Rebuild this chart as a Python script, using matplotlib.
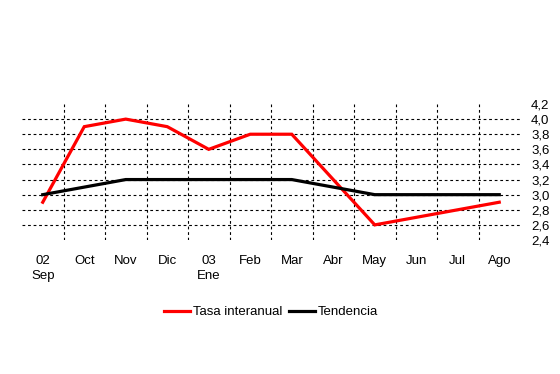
import matplotlib
matplotlib.use("Agg")
import matplotlib.pyplot as plt
import numpy as np

categories = ["02\nSep", "Oct", "Nov", "Dic", "03\nEne", "Feb", "Mar", "Abr", "May", "Jun", "Jul", "Ago"]
tasa = [2.9, 3.9, 4.0, 3.9, 3.6, 3.8, 3.8, 3.2, 2.6, 2.7, 2.8, 2.9]
tendencia = [3.0, 3.1, 3.2, 3.2, 3.2, 3.2, 3.2, 3.1, 3.0, 3.0, 3.0, 3.0]
yticks = [2.4, 2.6, 2.8, 3.0, 3.2, 3.4, 3.6, 3.8, 4.0, 4.2]

plt.rcParams['font.family'] = ['Liberation Sans', 'DejaVu Sans']

fig = plt.figure(figsize=(5.6, 3.74), dpi=100)
ax = fig.add_axes([22/560, 134/374, 498/560, 136/374])

x = np.arange(len(categories))
ax.plot(x, tasa, color='#ff0000', lw=2.3, label='Tasa interanual', solid_joinstyle='miter', zorder=3)
ax.plot(x, tendencia, color='black', lw=2.3, label='Tendencia', solid_joinstyle='miter', zorder=4)

ax.set_xlim(-0.5, len(categories) - 0.5)
ax.set_ylim(2.4, 4.2)

for yv in yticks[1:-1]:
    ax.axhline(yv, color='black', lw=0.8, ls=(0, (2.5, 2.5)), zorder=1)
for xv in np.arange(0.5, len(categories) - 1, 1.0):
    ax.axvline(xv, color='black', lw=0.8, ls=(0, (2.5, 2.5)), zorder=1)

ax.set_xticks(x)
ax.set_xticklabels(categories, fontsize=9.5, linespacing=1.25)
ax.set_yticks(yticks)
ax.set_yticklabels([f"{v:.1f}".replace('.', ',') for v in yticks], fontsize=9.5)
ax.yaxis.tick_right()
ax.tick_params(axis='both', length=0)
ax.tick_params(axis='x', pad=11)
ax.tick_params(axis='y', pad=8)
for s in ax.spines.values():
    s.set_visible(False)

leg = fig.legend(loc='center', bbox_to_anchor=(271/560, 1 - 312/374), ncol=2, frameon=False,
                 fontsize=9.5, handlelength=2.0, columnspacing=0.5, handletextpad=0.2)

fig.savefig("out.png", dpi=100)
